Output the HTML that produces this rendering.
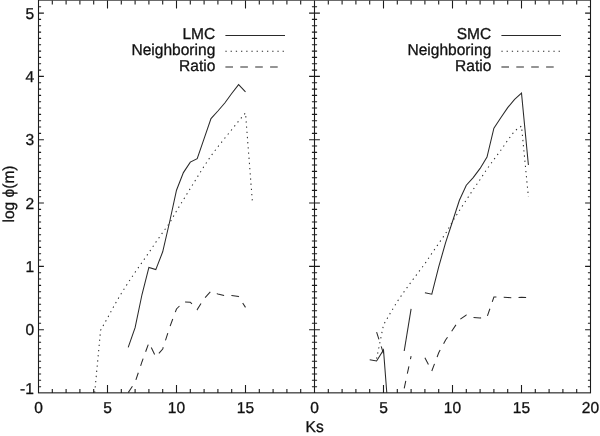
<!DOCTYPE html>
<html lang="en"><head><meta charset="utf-8"><title>log phi(m) vs Ks</title>
<style>html,body{margin:0;padding:0;background:#fff}svg{display:block}text{font-family:"Liberation Sans",sans-serif;fill:#111;text-rendering:geometricPrecision}</style></head><body>
<svg width="600" height="436" viewBox="0 0 600 436">
<rect width="600" height="436" fill="#fff"/>
<defs><clipPath id="cl"><rect x="38.5" y="0.4" width="276.0" height="392.6"/></clipPath><clipPath id="cr"><rect x="314.5" y="0.4" width="276.0" height="392.6"/></clipPath></defs>
<g stroke="#1c1c1c" stroke-width="1.1" fill="none">
<rect x="38.5" y="0.10" width="552.0" height="392.75"/>
<line x1="314.5" y1="0.4" x2="314.5" y2="393.0"/>
<path d="M52.3 393.0v-4.0M52.3 0.4v4.0M66.1 393.0v-4.0M66.1 0.4v4.0M79.9 393.0v-4.0M79.9 0.4v4.0M93.7 393.0v-4.0M93.7 0.4v4.0M107.5 393.0v-8.0M107.5 0.4v8.0M121.3 393.0v-4.0M121.3 0.4v4.0M135.1 393.0v-4.0M135.1 0.4v4.0M148.9 393.0v-4.0M148.9 0.4v4.0M162.7 393.0v-4.0M162.7 0.4v4.0M176.5 393.0v-8.0M176.5 0.4v8.0M190.3 393.0v-4.0M190.3 0.4v4.0M204.1 393.0v-4.0M204.1 0.4v4.0M217.9 393.0v-4.0M217.9 0.4v4.0M231.7 393.0v-4.0M231.7 0.4v4.0M245.5 393.0v-8.0M245.5 0.4v8.0M259.3 393.0v-4.0M259.3 0.4v4.0M273.1 393.0v-4.0M273.1 0.4v4.0M286.9 393.0v-4.0M286.9 0.4v4.0M300.7 393.0v-4.0M300.7 0.4v4.0M328.3 393.0v-4.0M328.3 0.4v4.0M342.1 393.0v-4.0M342.1 0.4v4.0M355.9 393.0v-4.0M355.9 0.4v4.0M369.7 393.0v-4.0M369.7 0.4v4.0M383.5 393.0v-8.0M383.5 0.4v8.0M397.3 393.0v-4.0M397.3 0.4v4.0M411.1 393.0v-4.0M411.1 0.4v4.0M424.9 393.0v-4.0M424.9 0.4v4.0M438.7 393.0v-4.0M438.7 0.4v4.0M452.5 393.0v-8.0M452.5 0.4v8.0M466.3 393.0v-4.0M466.3 0.4v4.0M480.1 393.0v-4.0M480.1 0.4v4.0M493.9 393.0v-4.0M493.9 0.4v4.0M507.7 393.0v-4.0M507.7 0.4v4.0M521.5 393.0v-8.0M521.5 0.4v8.0M535.3 393.0v-4.0M535.3 0.4v4.0M549.1 393.0v-4.0M549.1 0.4v4.0M562.9 393.0v-4.0M562.9 0.4v4.0M576.7 393.0v-4.0M576.7 0.4v4.0M38.5 386.7h2.6M314.5 386.7h-2.6M314.5 386.7h2.6M590.5 386.7h-2.6M38.5 380.3h2.6M314.5 380.3h-2.6M314.5 380.3h2.6M590.5 380.3h-2.6M38.5 374.0h2.6M314.5 374.0h-2.6M314.5 374.0h2.6M590.5 374.0h-2.6M38.5 367.7h2.6M314.5 367.7h-2.6M314.5 367.7h2.6M590.5 367.7h-2.6M38.5 361.3h2.6M314.5 361.3h-2.6M314.5 361.3h2.6M590.5 361.3h-2.6M38.5 355.0h2.6M314.5 355.0h-2.6M314.5 355.0h2.6M590.5 355.0h-2.6M38.5 348.7h2.6M314.5 348.7h-2.6M314.5 348.7h2.6M590.5 348.7h-2.6M38.5 342.3h2.6M314.5 342.3h-2.6M314.5 342.3h2.6M590.5 342.3h-2.6M38.5 336.0h2.6M314.5 336.0h-2.6M314.5 336.0h2.6M590.5 336.0h-2.6M38.5 329.7h5.4M314.5 329.7h-5.4M314.5 329.7h5.4M590.5 329.7h-5.4M38.5 323.3h2.6M314.5 323.3h-2.6M314.5 323.3h2.6M590.5 323.3h-2.6M38.5 317.0h2.6M314.5 317.0h-2.6M314.5 317.0h2.6M590.5 317.0h-2.6M38.5 310.7h2.6M314.5 310.7h-2.6M314.5 310.7h2.6M590.5 310.7h-2.6M38.5 304.3h2.6M314.5 304.3h-2.6M314.5 304.3h2.6M590.5 304.3h-2.6M38.5 298.0h2.6M314.5 298.0h-2.6M314.5 298.0h2.6M590.5 298.0h-2.6M38.5 291.7h2.6M314.5 291.7h-2.6M314.5 291.7h2.6M590.5 291.7h-2.6M38.5 285.4h2.6M314.5 285.4h-2.6M314.5 285.4h2.6M590.5 285.4h-2.6M38.5 279.0h2.6M314.5 279.0h-2.6M314.5 279.0h2.6M590.5 279.0h-2.6M38.5 272.7h2.6M314.5 272.7h-2.6M314.5 272.7h2.6M590.5 272.7h-2.6M38.5 266.4h5.4M314.5 266.4h-5.4M314.5 266.4h5.4M590.5 266.4h-5.4M38.5 260.0h2.6M314.5 260.0h-2.6M314.5 260.0h2.6M590.5 260.0h-2.6M38.5 253.7h2.6M314.5 253.7h-2.6M314.5 253.7h2.6M590.5 253.7h-2.6M38.5 247.4h2.6M314.5 247.4h-2.6M314.5 247.4h2.6M590.5 247.4h-2.6M38.5 241.0h2.6M314.5 241.0h-2.6M314.5 241.0h2.6M590.5 241.0h-2.6M38.5 234.7h2.6M314.5 234.7h-2.6M314.5 234.7h2.6M590.5 234.7h-2.6M38.5 228.4h2.6M314.5 228.4h-2.6M314.5 228.4h2.6M590.5 228.4h-2.6M38.5 222.0h2.6M314.5 222.0h-2.6M314.5 222.0h2.6M590.5 222.0h-2.6M38.5 215.7h2.6M314.5 215.7h-2.6M314.5 215.7h2.6M590.5 215.7h-2.6M38.5 209.4h2.6M314.5 209.4h-2.6M314.5 209.4h2.6M590.5 209.4h-2.6M38.5 203.0h5.4M314.5 203.0h-5.4M314.5 203.0h5.4M590.5 203.0h-5.4M38.5 196.7h2.6M314.5 196.7h-2.6M314.5 196.7h2.6M590.5 196.7h-2.6M38.5 190.4h2.6M314.5 190.4h-2.6M314.5 190.4h2.6M590.5 190.4h-2.6M38.5 184.0h2.6M314.5 184.0h-2.6M314.5 184.0h2.6M590.5 184.0h-2.6M38.5 177.7h2.6M314.5 177.7h-2.6M314.5 177.7h2.6M590.5 177.7h-2.6M38.5 171.4h2.6M314.5 171.4h-2.6M314.5 171.4h2.6M590.5 171.4h-2.6M38.5 165.0h2.6M314.5 165.0h-2.6M314.5 165.0h2.6M590.5 165.0h-2.6M38.5 158.7h2.6M314.5 158.7h-2.6M314.5 158.7h2.6M590.5 158.7h-2.6M38.5 152.4h2.6M314.5 152.4h-2.6M314.5 152.4h2.6M590.5 152.4h-2.6M38.5 146.0h2.6M314.5 146.0h-2.6M314.5 146.0h2.6M590.5 146.0h-2.6M38.5 139.7h5.4M314.5 139.7h-5.4M314.5 139.7h5.4M590.5 139.7h-5.4M38.5 133.4h2.6M314.5 133.4h-2.6M314.5 133.4h2.6M590.5 133.4h-2.6M38.5 127.0h2.6M314.5 127.0h-2.6M314.5 127.0h2.6M590.5 127.0h-2.6M38.5 120.7h2.6M314.5 120.7h-2.6M314.5 120.7h2.6M590.5 120.7h-2.6M38.5 114.4h2.6M314.5 114.4h-2.6M314.5 114.4h2.6M590.5 114.4h-2.6M38.5 108.0h2.6M314.5 108.0h-2.6M314.5 108.0h2.6M590.5 108.0h-2.6M38.5 101.7h2.6M314.5 101.7h-2.6M314.5 101.7h2.6M590.5 101.7h-2.6M38.5 95.4h2.6M314.5 95.4h-2.6M314.5 95.4h2.6M590.5 95.4h-2.6M38.5 89.1h2.6M314.5 89.1h-2.6M314.5 89.1h2.6M590.5 89.1h-2.6M38.5 82.7h2.6M314.5 82.7h-2.6M314.5 82.7h2.6M590.5 82.7h-2.6M38.5 76.4h5.4M314.5 76.4h-5.4M314.5 76.4h5.4M590.5 76.4h-5.4M38.5 70.1h2.6M314.5 70.1h-2.6M314.5 70.1h2.6M590.5 70.1h-2.6M38.5 63.7h2.6M314.5 63.7h-2.6M314.5 63.7h2.6M590.5 63.7h-2.6M38.5 57.4h2.6M314.5 57.4h-2.6M314.5 57.4h2.6M590.5 57.4h-2.6M38.5 51.1h2.6M314.5 51.1h-2.6M314.5 51.1h2.6M590.5 51.1h-2.6M38.5 44.7h2.6M314.5 44.7h-2.6M314.5 44.7h2.6M590.5 44.7h-2.6M38.5 38.4h2.6M314.5 38.4h-2.6M314.5 38.4h2.6M590.5 38.4h-2.6M38.5 32.1h2.6M314.5 32.1h-2.6M314.5 32.1h2.6M590.5 32.1h-2.6M38.5 25.7h2.6M314.5 25.7h-2.6M314.5 25.7h2.6M590.5 25.7h-2.6M38.5 19.4h2.6M314.5 19.4h-2.6M314.5 19.4h2.6M590.5 19.4h-2.6M38.5 13.1h5.4M314.5 13.1h-5.4M314.5 13.1h5.4M590.5 13.1h-5.4M38.5 6.7h2.6M314.5 6.7h-2.6M314.5 6.7h2.6M590.5 6.7h-2.6"/>
</g>
<g stroke="#2a2a2a" stroke-width="1.05" fill="none" stroke-linejoin="miter" clip-path="url(#cl)">
<polyline points="128.2,347.4 135.1,327.7 142.0,294.5 148.9,267.4 155.8,269.6 162.7,251.8 169.6,222.0 176.5,190.2 183.4,172.6 190.3,162.1 197.2,158.7 204.1,138.7 211.0,118.6 217.9,111.0 224.8,103.0 231.7,93.5 238.6,84.6 245.5,91.8"/>
<polyline stroke-dasharray="1.3 3.9" points="93.7,403.0 100.6,330.3 107.5,318.0 114.4,305.2 121.3,293.4 128.2,282.6 135.1,272.3 142.0,262.4 148.9,252.6 155.8,242.3 162.7,232.5 169.6,223.0 176.5,211.0 183.4,199.7 190.3,188.5 197.2,177.3 204.1,166.2 211.0,155.9 217.9,146.7 224.8,138.2 231.7,129.7 238.6,121.1 245.5,112.9 252.4,202.0"/>
<polyline stroke-dasharray="7.6 7.3" points="128.2,392.6 135.1,382.3 142.0,361.7 148.9,342.8 155.8,356.8 162.7,349.0 169.6,327.5 176.5,309.0 183.4,302.0 190.3,302.2 197.2,309.6 204.1,298.6 211.0,291.2 217.9,294.1 224.8,295.7 231.7,295.5 238.6,296.6 245.5,307.4"/>
</g>
<g stroke="#2a2a2a" stroke-width="1.05" fill="none" stroke-linejoin="miter" clip-path="url(#cr)">
<polyline points="369.7,359.8 376.6,361.0 383.5,350.0 390.4,440.0"/>
<polyline points="404.2,351.0 411.1,308.9"/>
<polyline points="424.9,292.8 431.8,294.2 438.7,266.9 445.6,242.6 452.5,221.5 459.4,200.3 466.3,185.2 473.2,177.6 480.1,168.4 487.0,157.0 493.9,128.1 500.8,117.7 507.7,107.6 514.6,99.3 521.5,93.1 528.4,165.0"/>
<polyline stroke-dasharray="1.3 3.9" points="376.6,358.7 383.5,324.9 390.4,313.0 397.3,301.5 404.2,291.5 411.1,282.0 418.0,272.8 424.9,263.7 431.8,253.4 438.7,243.5 445.6,233.5 452.5,221.5 459.4,210.5 466.3,200.0 473.2,189.5 480.1,179.5 487.0,169.0 493.9,159.5 500.8,150.3 507.7,140.3 514.6,131.0 521.5,126.0 528.4,197.0"/>
<polyline stroke-dasharray="7.6 7.3" points="376.6,332.2 383.5,353.5"/>
<polyline stroke-dasharray="7.6 7.3" points="404.2,388.3 411.1,356.1"/>
<polyline stroke-dasharray="7.6 7.3" points="424.9,357.8 431.8,371.0 438.7,352.8 445.6,340.0 452.5,330.0 459.4,319.8 466.3,315.0 473.2,317.4 480.1,318.0 487.0,317.2 493.9,297.0 500.8,297.0 507.7,297.4 514.6,298.0 521.5,297.2 528.4,297.6"/>
</g>
<g stroke="#2a2a2a" stroke-width="1.05" fill="none" stroke-linejoin="miter">
<line x1="225.4" y1="35.4" x2="285.0" y2="35.4"/>
<line stroke-dasharray="1.3 3.9" x1="225.4" y1="51.3" x2="285.0" y2="51.3"/>
<line stroke-dasharray="7.6 7.3" x1="225.4" y1="67" x2="285.0" y2="67"/>
<line x1="501.4" y1="35.4" x2="561.0" y2="35.4"/>
<line stroke-dasharray="1.3 3.9" x1="501.4" y1="51.3" x2="561.0" y2="51.3"/>
<line stroke-dasharray="7.6 7.3" x1="501.4" y1="67" x2="561.0" y2="67"/>
</g>
<g font-size="15.5" stroke="#111" stroke-width="0.3">
<text transform="translate(215.3 39.2) scale(1.003 1.020)" text-anchor="end">LMC</text>
<text transform="translate(215.3 55.0) scale(1.003 1.020)" text-anchor="end">Neighboring</text>
<text transform="translate(215.3 70.6) scale(1.003 1.020)" text-anchor="end">Ratio</text>
<text transform="translate(491.3 39.2) scale(1.003 1.020)" text-anchor="end">SMC</text>
<text transform="translate(491.3 55.0) scale(1.003 1.020)" text-anchor="end">Neighboring</text>
<text transform="translate(491.3 70.6) scale(1.003 1.020)" text-anchor="end">Ratio</text>
<text transform="translate(34.2 335.3) scale(1.003 1.020)" text-anchor="end">0</text>
<text transform="translate(34.2 272.0) scale(1.003 1.020)" text-anchor="end">1</text>
<text transform="translate(34.2 208.6) scale(1.003 1.020)" text-anchor="end">2</text>
<text transform="translate(34.2 145.3) scale(1.003 1.020)" text-anchor="end">3</text>
<text transform="translate(34.2 82.0) scale(1.003 1.020)" text-anchor="end">4</text>
<text transform="translate(34.2 18.7) scale(1.003 1.020)" text-anchor="end">5</text>
<text transform="translate(33.4 393.5) scale(1.003 1.020)" text-anchor="end"><tspan dx="0.6">-</tspan><tspan dx="0.2">1</tspan></text>
<text transform="translate(38.5 413.1) scale(1.003 1.020)" text-anchor="middle">0</text>
<text transform="translate(107.5 413.1) scale(1.003 1.020)" text-anchor="middle">5</text>
<text transform="translate(176.5 413.1) scale(1.003 1.020)" text-anchor="middle">10</text>
<text transform="translate(245.5 413.1) scale(1.003 1.020)" text-anchor="middle">15</text>
<text transform="translate(314.5 413.1) scale(1.003 1.020)" text-anchor="middle">0</text>
<text transform="translate(383.5 413.1) scale(1.003 1.020)" text-anchor="middle">5</text>
<text transform="translate(452.5 413.1) scale(1.003 1.020)" text-anchor="middle">10</text>
<text transform="translate(521.5 413.1) scale(1.003 1.020)" text-anchor="middle">15</text>
<text transform="translate(590.5 413.1) scale(1.003 1.020)" text-anchor="middle">20</text>
<text transform="translate(314.6 432.1) scale(1.003 1.020)" text-anchor="middle">Ks</text>
<text transform="translate(13.8 194.0) rotate(-90) scale(1.003 1.020)" text-anchor="middle">log ϕ(m)</text>
</g>
</svg></body></html>
